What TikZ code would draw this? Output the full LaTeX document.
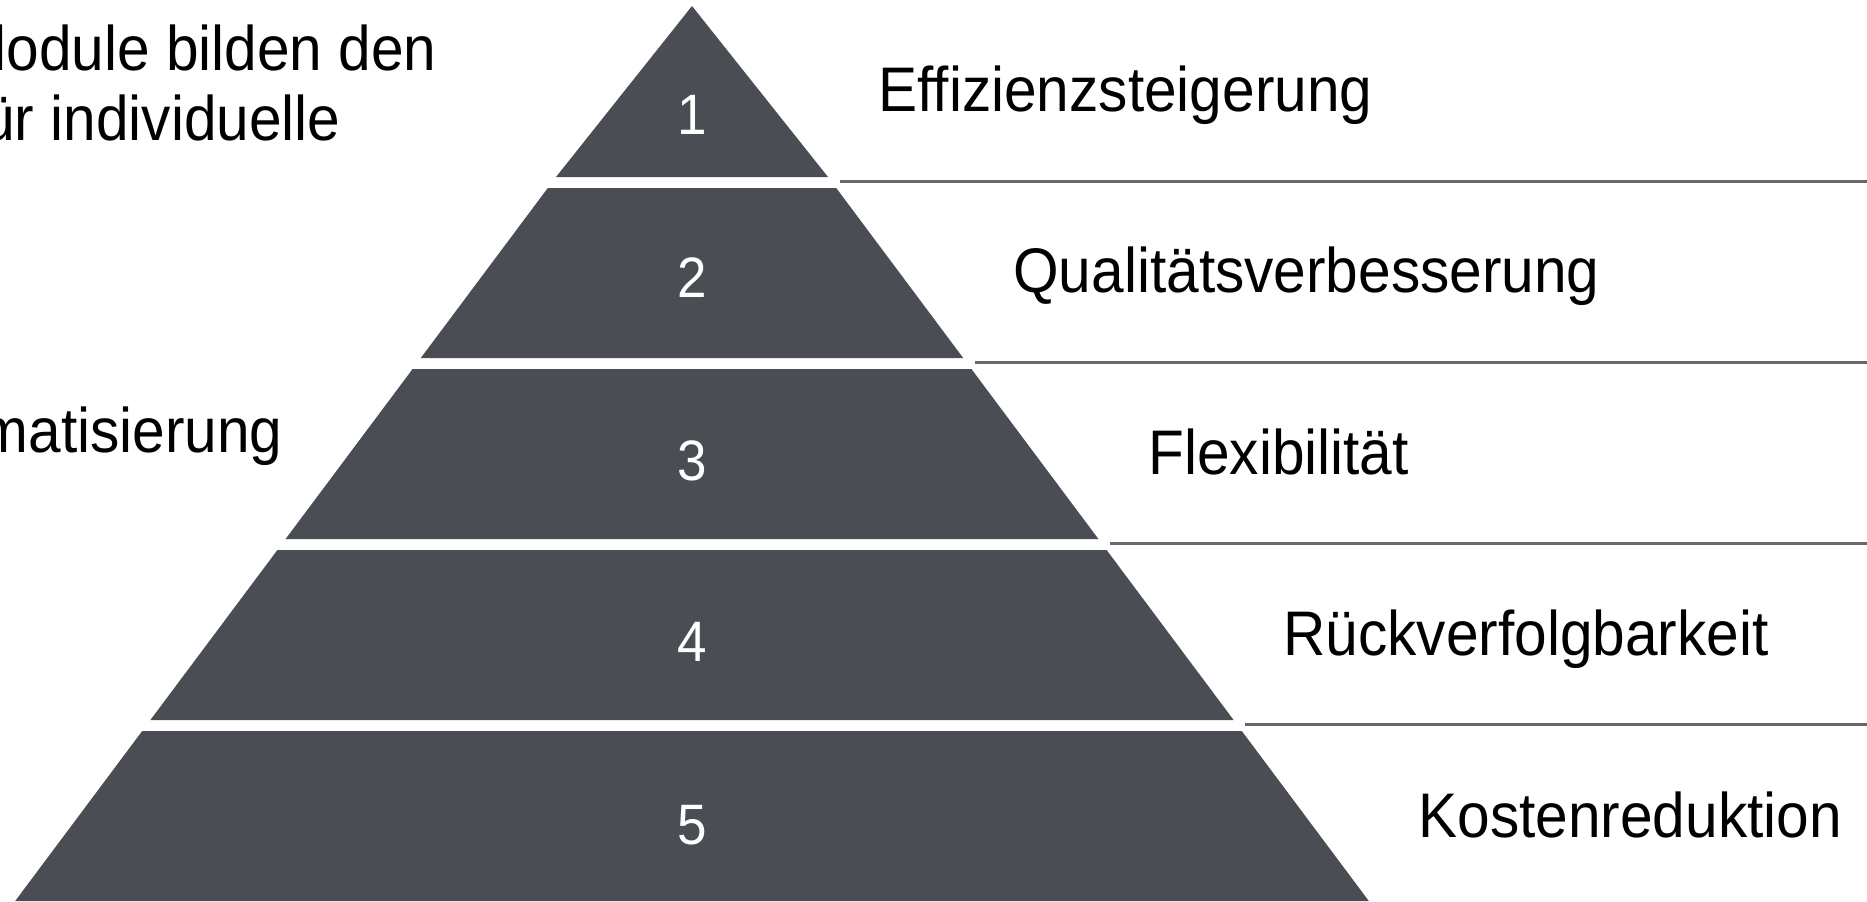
\documentclass[tikz,border=0pt]{standalone}
\usepackage{fontspec}
\setmainfont[FakeStretch=0.93]{Liberation Sans}

\definecolor{pyrgray}{RGB}{74,77,84}
\definecolor{rulegray}{RGB}{102,104,110}

\tikzset{
  layer/.style={fill=pyrgray, draw=none},
  sepline/.style={draw=rulegray, line width=1.5pt},
  goal/.style={font=\fontsize{31.5}{36}\selectfont, anchor=base west, inner sep=0pt},
  lnum/.style={font=\fontsize{28.5}{32}\selectfont, text=white, anchor=base, inner sep=0pt},
  side/.style={font=\fontsize{31.5}{36}\selectfont, anchor=base east, inner sep=0pt}
}

\begin{document}
\begin{tikzpicture}[x=0.5pt,y=-0.5pt]
    \useasboundingbox (0,0) rectangle (1867,901);
    \clip (0,0) rectangle (1867,901);

    % pyramid layers
    \fill[layer] (692,6) -- (828,177) -- (556,177) -- cycle;
    \fill[layer] (547.8,188) -- (836.2,188) -- (963.2,358) -- (420.8,358) -- cycle;
    \fill[layer] (412.6,369) -- (971.4,369) -- (1098.4,539) -- (285.6,539) -- cycle;
    \fill[layer] (277.4,550) -- (1106.6,550) -- (1233.6,720) -- (150.4,720) -- cycle;
    \fill[layer] (142.2,731) -- (1241.8,731) -- (1368.8,901) -- (15.2,901) -- cycle;

    \node[lnum] (n1) at (692,134) {1};
    \node[lnum] (n2) at (692,297) {2};
    \node[lnum] (n3) at (692,480) {3};
    \node[lnum] (n4) at (692,661) {4};
    \node[lnum] (n5) at (692,844) {5};

    % separator lines to the right
    \draw[sepline] (840,181) -- (1867,181);
    \draw[sepline] (975,362) -- (1867,362);
    \draw[sepline] (1110,543) -- (1867,543);
    \draw[sepline] (1245,724) -- (1867,724);

    \node[goal] (g1) at (878,111) {Effizienzsteigerung};
    \node[goal] (g2) at (1013,292.5) {Qualitätsverbesserung};
    \node[goal] (g3) at (1148,474) {Flexibilität};
    \node[goal] (g4) at (1283,655.5) {Rückverfolgbarkeit};
    \node[goal] (g5) at (1418,837) {Kostenreduktion};

    % cut-off text on the left
    \node[side] (t1) at (437,70) {lodule bilden den};
    \node[side] (t2) at (341,140) {ür individuelle};
    \node[side] (t3) at (283,452) {matisierung};
\end{tikzpicture}
\end{document}
